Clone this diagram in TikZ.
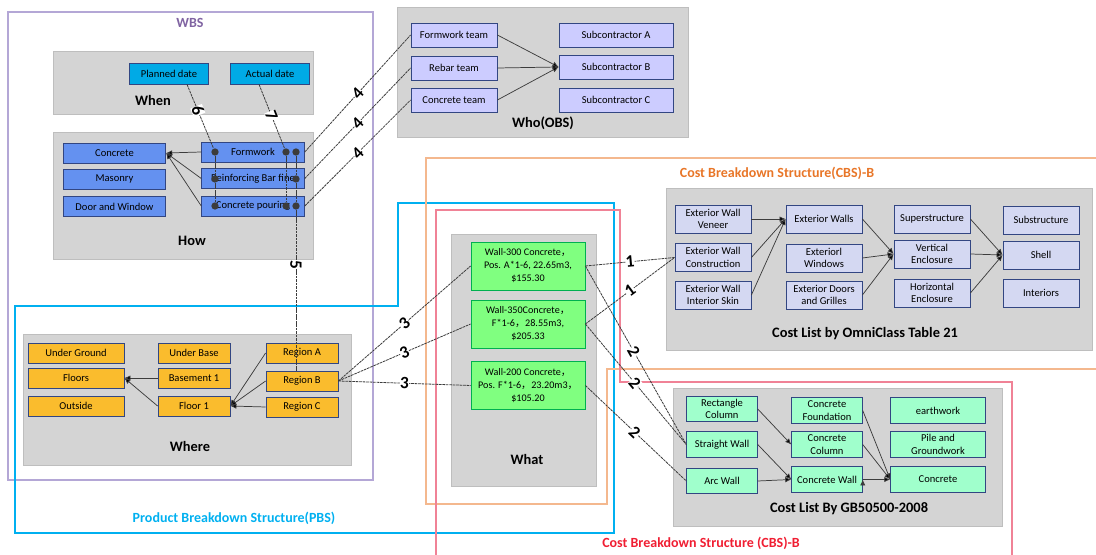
\documentclass[tikz,border=0pt]{standalone}
\usepackage{fontspec}
\setmainfont{Carlito}
\newfontfamily\cjk{Noto Sans CJK SC}
\usetikzlibrary{arrows.meta,positioning}
\tikzset{>/.tip={Latex[length=4.5pt,width=4pt]}}
\def\fwc{{\cjk ，}}
\definecolor{wbsline}{RGB}{180,167,214}
\definecolor{wbstext}{RGB}{128,100,162}
\definecolor{pbsline}{RGB}{0,176,240}
\definecolor{cbsaline}{RGB}{244,184,142}
\definecolor{cbsatext}{RGB}{232,118,40}
\definecolor{cbsbline}{RGB}{240,130,150}
\definecolor{cbsbtext}{RGB}{240,30,50}
\definecolor{panelfill}{RGB}{212,212,212}
\definecolor{panelline}{RGB}{190,190,190}
\definecolor{whenfill}{RGB}{0,170,230}
\definecolor{howfill}{RGB}{100,145,240}
\definecolor{whofill}{RGB}{204,204,255}
\definecolor{wherefill}{RGB}{250,188,45}
\definecolor{whatfill}{RGB}{128,255,128}
\definecolor{whatline}{RGB}{0,176,80}
\definecolor{omnifill}{RGB}{212,216,242}
\definecolor{gbfill}{RGB}{160,255,204}
\definecolor{boxline}{RGB}{50,70,130}
\definecolor{wire}{RGB}{60,60,60}
\tikzset{
  frame/.style={line width=1.5pt},
  panel/.style={fill=panelfill,draw=panelline,line width=0.6pt},
  ptitle/.style={font=\bfseries\fontsize{10.8}{12}\selectfont},
  ftitle/.style={font=\bfseries\fontsize{10.5}{12}\selectfont},
  box/.style={draw=boxline,line width=0.6pt,align=center,inner sep=1pt,font=\fontsize{7.9}{9.2}\selectfont},
  whenbox/.style={box,fill=whenfill,minimum width=59pt,minimum height=15.75pt},
  howbox/.style={box,fill=howfill,minimum width=77pt,minimum height=15pt},
  whobox/.style={box,fill=whofill,minimum width=64.5pt,minimum height=18pt},
  subbox/.style={whobox,minimum width=85.5pt},
  wherebox/.style={box,fill=wherefill,minimum width=54pt,minimum height=15pt},
  whatbox/.style={box,fill=whatfill,draw=whatline,minimum width=85.5pt,minimum height=36pt,font=\fontsize{7.6}{9.75}\selectfont},
  omnibox/.style={box,fill=omnifill,minimum width=57pt,minimum height=21pt},
  gbbox/.style={box,fill=gbfill,minimum width=53pt,minimum height=19pt},
  arr/.style={->,draw=wire,line width=0.55pt},
  link/.style={draw=wire,line width=0.6pt,dash pattern=on 2pt off 0.6pt},
  num/.style={fill=white,inner sep=0.2pt,sloped,font=\bfseries\fontsize{13}{13}\selectfont},
  dot/.style={circle,fill=wire,inner sep=0pt,minimum size=5.5pt},
}

\begin{document}
\begin{tikzpicture}[x=0.75pt,y=-0.75pt]
  \useasboundingbox (0,0) rectangle (1096,555);
  % outer structures
  \draw[frame,wbsline] (8,12) rectangle (373,480);
  \draw[frame,pbsline] (15,306) -- (398,306) -- (398,203) -- (614,203) -- (614,533) -- (15,533) -- cycle;
  \draw[frame,cbsaline] (1100,158) -- (426,158) -- (426,504) -- (607,504) -- (607,369) -- (1100,369);
  \draw[frame,cbsbline] (436,560) -- (436,210) -- (620,210) -- (620,382) -- (1012,382) -- (1012,560);
  \node[ftitle,text=wbstext] (tWBS) at (190,23) {WBS};
  \node[ftitle,text=pbsline] (tPBS) at (234,518) {Product Breakdown Structure(PBS)};
  \node[ftitle,text=cbsatext] (tCBSa) at (777,173) {Cost Breakdown Structure(CBS)-B};
  \node[ftitle,text=cbsbtext] (tCBSb) at (701,543) {Cost Breakdown Structure (CBS)-B};

  % panels
  \draw[panel] (53,51) rectangle (313,114);
  \draw[panel] (53,132) rectangle (313,259);
  \draw[panel] (397,7) rectangle (688,137);
  \draw[panel] (666,188) rectangle (1092,350);
  \draw[panel] (451,234) rectangle (596,486);
  \draw[panel] (23,334) rectangle (351,465);
  \draw[panel] (673,388) rectangle (1002,526);
  \node[ptitle] (tWhen) at (153,101) {When};
  \node[ptitle] (tHow) at (192,241) {How};
  \node[ptitle] (tWho) at (543,123) {Who(OBS)};
  \node[ptitle] (tOmni) at (865,334) {Cost List by OmniClass Table 21};
  \node[ptitle] (tWhat) at (527,460) {What};
  \node[ptitle] (tWhere) at (190,447) {Where};
  \node[ptitle] (tGB) at (849,509) {Cost List By GB50500-2008};

  % when
  \node[whenbox] (PD) at (169,73.5) {Planned date};
  \node[whenbox] (AD) at (270,73.5) {Actual date};
  % how
  \node[howbox] (Conc) at (114.5,153) {Concrete};
  \node[howbox] (Mas) at (114.5,179) {Masonry};
  \node[howbox] (DW) at (114.5,206.5) {Door and Window};
  \node[howbox] (FW) at (253,152) {Formwork};
  \node[howbox,inner sep=0pt] (RBF) at (253,178.5) {Reinforcing Bar fine};
  \node[howbox] (CP) at (253,206) {Concrete pouring};
  % who
  \node[whobox] (FT) at (454,35) {Formwork team};
  \node[whobox] (RT) at (454,68) {Rebar team};
  \node[whobox] (CT) at (454,100) {Concrete team};
  \node[subbox] (SA) at (616,35) {Subcontractor A};
  \node[subbox] (SB) at (616,67) {Subcontractor B};
  \node[subbox] (SC) at (616,100) {Subcontractor C};
  % where
  \node[wherebox,minimum width=72pt] (UG) at (76,353) {Under Ground};
  \node[wherebox,minimum width=72pt] (Fl) at (76,378) {Floors};
  \node[wherebox,minimum width=72pt] (Out) at (76,406) {Outside};
  \node[wherebox] (UB) at (194,353) {Under Base};
  \node[wherebox] (B1) at (194,378) {Basement 1};
  \node[wherebox] (F1) at (194,406) {Floor 1};
  \node[wherebox] (RA) at (302,353) {Region A};
  \node[wherebox] (RB) at (302,381) {Region B};
  \node[wherebox] (RC) at (302,407) {Region C};
  % what
  \node[whatbox] (W300) at (528,266) {Wall-300 Concrete\fwc\\Pos. A*1-6, 22.65m3,\\\$155.30};
  \node[whatbox] (W350) at (528,324) {Wall-350Concrete\fwc\\F*1-6\fwc 28.55m3,\\\$205.33};
  \node[whatbox] (W200) at (528,385.5) {Wall-200 Concrete\fwc\\Pos. F*1-6\fwc 23.20m3\fwc\\\$105.20};
  % omniclass
  \node[omnibox] (EWV) at (713,219) {Exterior Wall\\Veneer};
  \node[omnibox] (EWC) at (713,257.5) {Exterior Wall\\Construction};
  \node[omnibox] (EWI) at (713,295) {Exterior Wall\\Interior Skin};
  \node[omnibox] (EW) at (824,219) {Exterior Walls};
  \node[omnibox] (EWin) at (824,258) {Exteriorl\\Windows};
  \node[omnibox] (EDG) at (824,295) {Exterior Doors\\and Grilles};
  \node[omnibox] (Sup) at (932,219) {Superstructure};
  \node[omnibox] (VE) at (932,254) {Vertical\\Enclosure};
  \node[omnibox] (HE) at (932,293) {Horizontal\\Enclosure};
  \node[omnibox] (Sub) at (1041,220) {Substructure};
  \node[omnibox] (Sh) at (1041,255) {Shell};
  \node[omnibox] (Int) at (1041,293) {Interiors};
  % gb50500
  \node[gbbox] (RCol) at (722,409) {Rectangle\\Column};
  \node[gbbox] (SW) at (722,444.5) {Straight Wall};
  \node[gbbox] (AW) at (722,481) {Arc Wall};
  \node[gbbox] (CF) at (827,410.5) {Concrete\\Foundation};
  \node[gbbox] (CC) at (827,444.5) {Concrete\\Column};
  \node[gbbox] (CW) at (827,479.5) {Concrete Wall};
  \node[gbbox,minimum width=71pt] (Ew) at (938,410.5) {earthwork};
  \node[gbbox,minimum width=71pt] (PG) at (938,444.5) {Pile and\\Groundwork};
  \node[gbbox,minimum width=71pt] (Cn) at (938,479.5) {Concrete};

  % dots on the tasks
  \node[dot] (f1) at (215,152) {};
  \node[dot] (f2) at (286,152) {};
  \node[dot] (f3) at (296,152) {};
  \node[dot] (r1) at (215,179) {};
  \node[dot] (r3) at (296,179) {};
  \node[dot] (c1) at (215,206) {};
  \node[dot] (c2) at (286,206) {};
  \node[dot] (c3) at (296,206) {};

  % hierarchies
  \draw[arr]
  (FW.west) edge (Conc.east)
  (RBF.west) edge (Conc.east)
  (CP.west) edge (Conc.east)
  (FT.east) edge (SB.west)
  (RT.east) edge (SB.west)
  (CT.east) edge (SB.west)
  (B1.west) edge (Fl.east)
  (F1.west) edge (Fl.east)
  (RA.west) edge (F1.east)
  (RB.west) edge (F1.east)
  (RC.west) edge (F1.east)
  (EWV.east) edge (EW.west)
  (EWC.east) edge (EW.west)
  (EWI.east) edge (EW.west)
  (EW.east) edge (VE.west)
  (EWin.east) edge (VE.west)
  (EDG.east) edge (VE.west)
  (Sup.east) edge (Sh.west)
  (VE.east) edge (Sh.west)
  (HE.east) edge (Sh.west)
  (RCol.east) edge (CC.west)
  (SW.east) edge (CW.west)
  (AW.east) edge (CW.west)
  (CF.east) edge (Cn.west)
  (CC.east) edge (Cn.west)
  (CW.east) edge (Cn.west);

  % numbered links
  \draw[link] (f1) -- (r1) -- (c1);
  \draw[link] (f2) -- (c2);
  \draw[link] (f3) -- (r3) -- (c3);
  \draw[link]
  ([xshift=13.5pt]PD.south) edge node[num,pos=0.41]{6} (f1)
  ([xshift=-8.25pt]AD.south) edge node[num,pos=0.49]{7} (f2)
  (c3) edge node[num,pos=0.34]{5} (c3 |- RB.north)
  (FW.east) edge node[num]{4} (FT.west)
  (RBF.east) edge node[num]{4} (RT.west)
  (CP.east) edge node[num]{4} (CT.west)
  (RB.east) edge node[num]{3} (W300.west)
  (RB.east) edge node[num]{3} (W350.west)
  (RB.east) edge node[num]{3} (W200.west)
  (W300.east) edge node[num]{1} (EWC.west)
  (W350.east) edge node[num]{1} (EWC.west)
  (W300.east) edge node[num,pos=0.48]{2} (SW.west)
  (W350.east) edge node[num,pos=0.49]{2} (SW.west)
  (W200.east) edge node[num,pos=0.49]{2} (AW.west);
\end{tikzpicture}
\end{document}
